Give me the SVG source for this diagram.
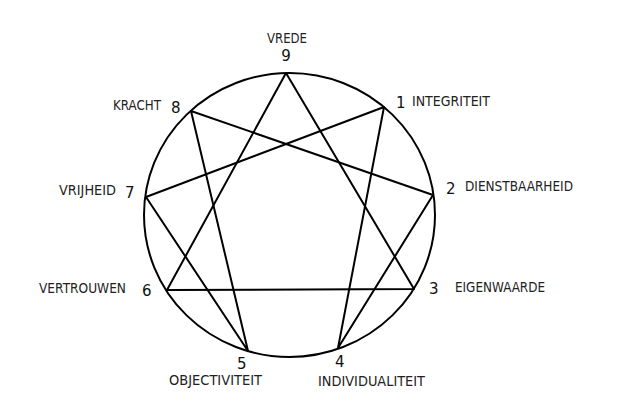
<svg xmlns="http://www.w3.org/2000/svg" width="623" height="403" viewBox="0 0 623 403">
<style>
.lbl{font-family:"DejaVu Sans","Liberation Sans",sans-serif;font-size:14px;fill:#222}
.num{font-family:"DejaVu Sans","Liberation Sans",sans-serif;font-size:15px;fill:#111}
.ln{stroke:#000;stroke-width:2;fill:none;stroke-linecap:round;stroke-linejoin:round}
</style>
<rect width="623" height="403" fill="#fff"/>
<g id="circle"><ellipse class="ln" cx="289.5" cy="215" rx="145.5" ry="142"/></g>
<g id="connectors">
<polygon class="ln" points="286,73 414,289 167,290"/>
<polygon class="ln" points="384,107 338,348 433,195 191,111 248,351 146,197"/>
</g>
<g id="n9"><text class="lbl" x="267" y="43" textLength="40" lengthAdjust="spacingAndGlyphs">VREDE</text><text class="num" x="286" y="61" text-anchor="middle">9</text></g>
<g id="n1"><text class="num" x="396" y="108">1</text><text class="lbl" x="412" y="106" textLength="78" lengthAdjust="spacingAndGlyphs">INTEGRITEIT</text></g>
<g id="n2"><text class="num" x="446" y="194">2</text><text class="lbl" x="465" y="191" textLength="108" lengthAdjust="spacingAndGlyphs">DIENSTBAARHEID</text></g>
<g id="n3"><text class="num" x="429" y="294">3</text><text class="lbl" x="455" y="292" textLength="90" lengthAdjust="spacingAndGlyphs">EIGENWAARDE</text></g>
<g id="n4"><text class="num" x="335" y="367">4</text><text class="lbl" x="318" y="386" textLength="107" lengthAdjust="spacingAndGlyphs">INDIVIDUALITEIT</text></g>
<g id="n5"><text class="num" x="237" y="369">5</text><text class="lbl" x="169" y="385" textLength="93" lengthAdjust="spacingAndGlyphs">OBJECTIVITEIT</text></g>
<g id="n6"><text class="num" x="142" y="296">6</text><text class="lbl" x="39" y="293" textLength="87" lengthAdjust="spacingAndGlyphs">VERTROUWEN</text></g>
<g id="n7"><text class="num" x="125" y="198">7</text><text class="lbl" x="59" y="195" textLength="57" lengthAdjust="spacingAndGlyphs">VRIJHEID</text></g>
<g id="n8"><text class="num" x="171" y="113">8</text><text class="lbl" x="113" y="110" textLength="48" lengthAdjust="spacingAndGlyphs">KRACHT</text></g>
</svg>
